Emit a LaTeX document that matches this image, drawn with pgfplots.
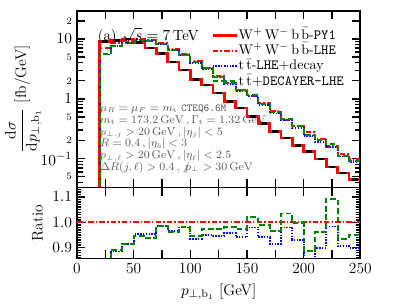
\documentclass[border=0pt]{standalone}
\usepackage{pgfplots}
\pgfplotsset{compat=1.18}
\definecolor{dgreen}{RGB}{0,128,0}
\begin{document}
\begin{tikzpicture}
\pgfplotsset{
  myaxis/.style={
    scale only axis, width=202pt,
    xmin=0, xmax=250,
    axis line style={line width=1.2pt},
    every tick/.style={black, line width=1pt},
    major tick length=6pt, minor tick length=4pt,
    tick label style={font=\fontsize{11}{13}\selectfont},
    label style={font=\fontsize{11}{13}\selectfont},
    xtick={0,25,...,250},
    clip=true,
  }
}
\path (-54.9pt,-34.9pt) rectangle (235.3pt,184.4pt);
% ---------------- upper panel ----------------
\begin{axis}[myaxis,
  at={(0,50.6pt)}, anchor=south west, height=126pt,
  ymode=log, ymin=0.0329, ymax=29.3,
  xticklabels={},
  ytick={0.05,0.1,0.2,0.5,1,2,5,10,20},
  yticklabels={{\scriptsize 5},$10^{-1}$,{\scriptsize 2},{\scriptsize 5},$1$,{\scriptsize 2},{\scriptsize 5},$10$,{\scriptsize 2}},
  minor ytick={0.04,0.06,0.07,0.08,0.09,0.3,0.4,0.6,0.7,0.8,0.9,3,4,6,7,8,9},
  ylabel={$\displaystyle\frac{\mathrm{d}\sigma}{\mathrm{d}p_{\perp,\mathrm{b}_1}}$\ [fb/GeV]},
  ylabel style={at={(axis description cs:-0.19,0.5)}, anchor=center},
  legend style={at={(0.945,0.90)}, anchor=north east, draw=none, fill=none,
     font=\fontsize{10}{11}\selectfont, inner sep=0pt, row sep=1.4pt,
     nodes={inner sep=0.5pt, text height=7pt, text depth=1.5pt}},
  legend cell align=left,
]
\addplot[red, line width=1.8pt, const plot] coordinates {
(20,0.001)(20,9.0)(30,9.4)(40,9.9)(50,8.7)(60,7.0)(70,5.65)(80,4.15)(90,3.05)(100,2.1)(110,1.7)(120,1.24)
(130,0.90)(140,0.70)(150,0.51)(160,0.39)(170,0.285)(180,0.22)(190,0.165)(200,0.132)(210,0.099)
(220,0.073)(230,0.058)(240,0.045)(250,0.045)};
\addlegendentry{$\mathrm{W^+\,W^-\,b\,\bar{b}}$-\texttt{PY1}}
\addplot[red, line width=1.5pt, const plot, dash pattern=on 4pt off 1.5pt on 1pt off 1.5pt] coordinates {
(20,0.001)(20,7.1)(30,8.6)(40,9.3)(50,10.0)(60,9.7)(70,8.4)(80,6.8)(90,5.5)(100,4.3)(110,3.3)(120,2.4)
(130,1.85)(140,1.42)(150,1.12)(160,0.84)(170,0.62)(180,0.45)(190,0.35)(200,0.28)(210,0.21)
(220,0.16)(230,0.12)(240,0.097)(250,0.097)};
\addlegendentry{$\mathrm{W^+\,W^-\,b\,\bar{b}}$-\texttt{LHE}}
\addplot[blue, line width=1.3pt, const plot, dash pattern=on 1pt off 1pt] coordinates {
(20,0.001)(20,5.5)(30,7.65)(40,8.58)(50,9.58)(60,9.29)(70,8.29)(80,6.58)(90,5.39)(100,4.02)(110,3.14)(120,2.27)
(130,1.77)(140,1.34)(150,1.10)(160,0.790)(170,0.568)(180,0.441)(190,0.326)(200,0.239)(210,0.189)
(220,0.157)(230,0.109)(240,0.087)(250,0.087)};
\addlegendentry{$\mathrm{t\,\bar{t}}$-\texttt{LHE}+decay}
\addplot[dgreen, line width=1.4pt, const plot, dash pattern=on 4pt off 2pt] coordinates {
(20,0.001)(20,5.5)(30,7.70)(40,8.56)(50,9.5)(60,9.13)(70,8.29)(80,6.56)(90,5.37)(100,4.09)(110,3.21)(120,2.34)
(130,1.82)(140,1.38)(150,1.14)(160,0.831)(170,0.598)(180,0.466)(190,0.349)(200,0.248)(210,0.202)
(220,0.175)(230,0.112)(240,0.092)(250,0.092)};
\addlegendentry{$\mathrm{t\,\bar{t}}$+\texttt{DECAYER-LHE}}
\addplot[only marks, mark=-, mark size=2.2pt, mark options={black, line width=1.8pt}, forget plot] coordinates {
(25,9.0)(35,9.4)(45,9.9)(55,8.7)(65,7.0)(75,5.65)(85,4.15)(95,3.05)(105,2.1)(115,1.7)(125,1.24)
(135,0.90)(145,0.70)(155,0.51)(165,0.39)(175,0.285)(185,0.22)(195,0.165)(205,0.132)(215,0.099)
(225,0.073)(235,0.058)(245,0.045)};
\node[anchor=base west, font=\fontsize{10.5}{12}\selectfont] at (axis description cs:0.056,0.835) {(a)\hspace{4pt}$\sqrt{s}=7\,$TeV};
\node[anchor=north west, inner sep=0pt, align=left, text=black!65, font=\fontsize{7.6}{8.4}\selectfont]
  at (axis description cs:0.081,0.47) {%
$\mu_R=\mu_F=m_{\mathrm{t}}$ \texttt{CTEQ6.6M}\\
$m_{\mathrm{t}}=173.2\,\mathrm{GeV}\,,\Gamma_{\mathrm{t}}=1.32\,\mathrm{GeV}$\\
$p_{\perp,j}>20\,\mathrm{GeV}\,,|\eta_j|<5$\\
$R=0.4\,,|\eta_b|<3$\\
$p_{\perp,\ell}>20\,\mathrm{GeV}\,,|\eta_\ell|<2.5$\\
$\Delta R(j,\ell)>0.4\,,\not{p}_\perp>30\,\mathrm{GeV}$};
\end{axis}
% ---------------- lower panel ----------------
\begin{axis}[myaxis,
  at={(0,0)}, anchor=south west, height=50.6pt,
  ymin=0.857, ymax=1.137,
  xticklabels={0,,50,,100,,150,,200,,250},
  ytick={0.9,1.0,1.1},
  minor ytick={0.86,0.87,0.88,0.89,0.91,0.92,0.93,0.94,0.95,0.96,0.97,0.98,0.99,1.01,1.02,1.03,1.04,1.05,1.06,1.07,1.08,1.09,1.11,1.12,1.13},
  minor tick length=3pt,
  yticklabel style={/pgf/number format/.cd, fixed, fixed zerofill, precision=1},
  ylabel={Ratio},
  ylabel style={at={(axis description cs:-0.139,0.5)}, anchor=center},
  xlabel={$p_{\perp,\mathrm{b}_1}$ [GeV]},
]
\addplot[red, line width=1.5pt, dash pattern=on 4pt off 1.5pt on 1pt off 1.5pt] coordinates {(0,1)(250,1)};
\addplot[blue, line width=1.3pt, const plot, dash pattern=on 1pt off 1pt] coordinates {
(20,0.77)(30,0.885)(40,0.915)(50,0.953)(60,0.953)(70,0.987)(80,0.966)(90,0.98)(100,0.934)(110,0.95)(120,0.946)
(130,0.958)(140,0.941)(150,0.98)(160,0.941)(170,0.916)(180,0.98)(190,0.932)(200,0.85)(210,0.90)
(220,0.984)(230,0.906)(240,0.90)(250,0.90)};
\addplot[dgreen, line width=1.4pt, const plot, dash pattern=on 4pt off 2pt] coordinates {
(20,0.77)(30,0.89)(40,0.915)(50,0.947)(60,0.938)(70,0.987)(80,0.962)(90,0.980)(100,0.947)(110,0.974)(120,0.974)
(130,0.983)(140,0.974)(150,1.02)(160,0.989)(170,0.965)(180,1.035)(190,0.996)(200,0.886)(210,0.962)
(220,1.093)(230,0.936)(240,0.952)(250,0.952)};
\end{axis}
\end{tikzpicture}
\end{document}
